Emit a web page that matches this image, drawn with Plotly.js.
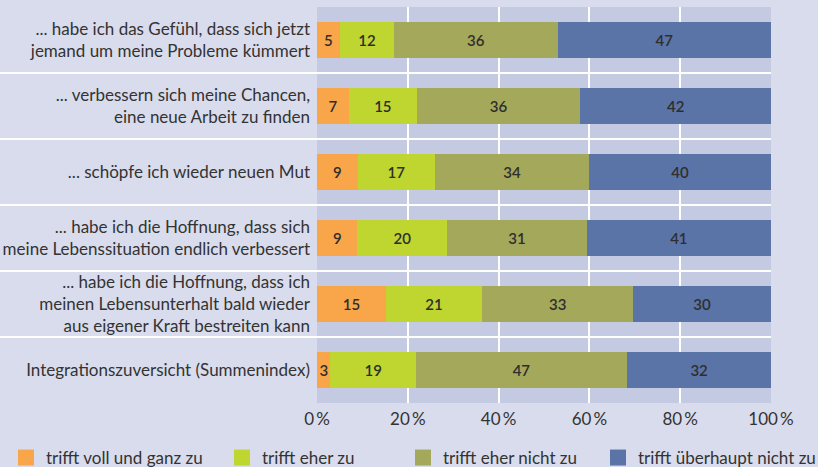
<!DOCTYPE html>
<html>
<head>
<meta charset="utf-8">
<script src="https://cdn.plot.ly/plotly-3.0.1.min.js"></script>
<style>
html,body{margin:0;padding:0;background:#d9dcec;}
#chart{width:818px;height:467px;}
</style>
</head>
<body>
<div id="chart"></div>
<script>
const categories = [
  "... habe ich das Gefühl, dass sich jetzt<br>jemand um meine Probleme kümmert",
  "... verbessern sich meine Chancen,<br>eine neue Arbeit zu finden",
  "... schöpfe ich wieder neuen Mut",
  "... habe ich die Hoffnung, dass sich<br>meine Lebenssituation endlich verbessert",
  "... habe ich die Hoffnung, dass ich<br>meinen Lebensunterhalt bald wieder<br>aus eigener Kraft bestreiten kann",
  "Integrationszuversicht (Summenindex)"
];
const seriesNames = ["trifft voll und ganz zu", "trifft eher zu", "trifft eher nicht zu", "trifft überhaupt nicht zu"];
const vollUndGanz = [5, 7, 9, 9, 15, 3];
const eherZu = [12, 15, 17, 20, 21, 19];
const eherNicht = [36, 36, 34, 31, 33, 47];
const ueberhauptNicht = [47, 42, 40, 41, 30, 32];
const tickValues = [0, 20, 40, 60, 80, 100];
const tickLabels = ["0\u2009%", "20\u2009%", "40\u2009%", "60\u2009%", "80\u2009%", "100\u2009%"];

const colors = ["#f9a64a", "#bed62f", "#a4a85a", "#5b74a8"];
const series = [vollUndGanz, eherZu, eherNicht, ueberhauptNicht];
const FONT = "Lato, 'Open Sans', sans-serif";
const legendIds = ["legend", "legend2", "legend3", "legend4"];
const legendPx = [20, 236, 417, 612];

// rows are shown as shares of 100 % (rounded values may sum to 99 or 101)
const rowTotals = categories.map((_, r) => series.reduce((s, arr) => s + arr[r], 0));

const L = 317, R = 771, T = 7, B = 403;
const W = 818, H = 467;
const pw = R - L, ph = B - T;

const traces = [];
series.forEach((vals, i) => {
  traces.push({
    type: "bar", orientation: "h",
    x: vals.map((v, r) => v / rowTotals[r] * 100), y: categories,
    name: seriesNames[i],
    marker: {color: colors[i], line: {width: 0}},
    width: 0.56,
    text: vals.map(String),
    textposition: "inside",
    insidetextanchor: "middle",
    constraintext: "none",
    textfont: {family: FONT, size: 15, color: "#2e2e2e", weight: 600},
    showlegend: false,
    hoverinfo: "text+name"
  });
});
series.forEach((vals, i) => {
  traces.push({
    type: "scatter", mode: "markers",
    x: [null], y: [null],
    name: seriesNames[i],
    marker: {symbol: "square", size: 16, color: colors[i], line: {width: 0}},
    legend: legendIds[i],
    showlegend: true,
    hoverinfo: "skip"
  });
});

const shapes = [];
for (let k = 1; k < categories.length; k++) {
  shapes.push({
    type: "line", xref: "paper", yref: "paper",
    x0: -L / pw, x1: 1, y0: 1 - k / categories.length, y1: 1 - k / categories.length,
    line: {color: "#ffffff", width: 2}, layer: "above"
  });
}

const layout = {
  width: W, height: H,
  paper_bgcolor: "#d9dcec",
  plot_bgcolor: "#c5cae3",
  margin: {l: L, r: W - R, t: T, b: H - B, pad: 0, autoexpand: false},
  barmode: "stack",
  bargap: 0.44,
  font: {family: FONT, size: 17, color: "#333333"},
  xaxis: {
    range: [0, 100], tickvals: tickValues, ticktext: tickLabels,
    showgrid: true, gridcolor: "#ffffff", gridwidth: 2,
    zeroline: false, showline: false, ticks: "",
    ticklabelstandoff: 4,
    tickfont: {family: FONT, size: 17, color: "#333333"},
    fixedrange: true, automargin: false
  },
  yaxis: {
    type: "category", categoryorder: "array", categoryarray: categories,
    autorange: "reversed",
    showgrid: false, zeroline: false, showline: false, ticks: "",
    ticklabelstandoff: 6,
    tickfont: {family: FONT, size: 17, color: "#333333"},
    fixedrange: true, automargin: false
  },
  shapes: shapes,
  showlegend: true
};
legendIds.forEach((id, i) => {
  layout[id] = {
    x: (legendPx[i] - 14 - L) / pw, xanchor: "left",
    y: (B - 458) / ph, yanchor: "middle",
    orientation: "h",
    bgcolor: "rgba(0,0,0,0)",
    font: {family: FONT, size: 17, color: "#333333"},
    itemsizing: "trace"
  };
});

Plotly.newPlot("chart", traces, layout, {displayModeBar: false, staticPlot: true});
</script>
</body>
</html>
